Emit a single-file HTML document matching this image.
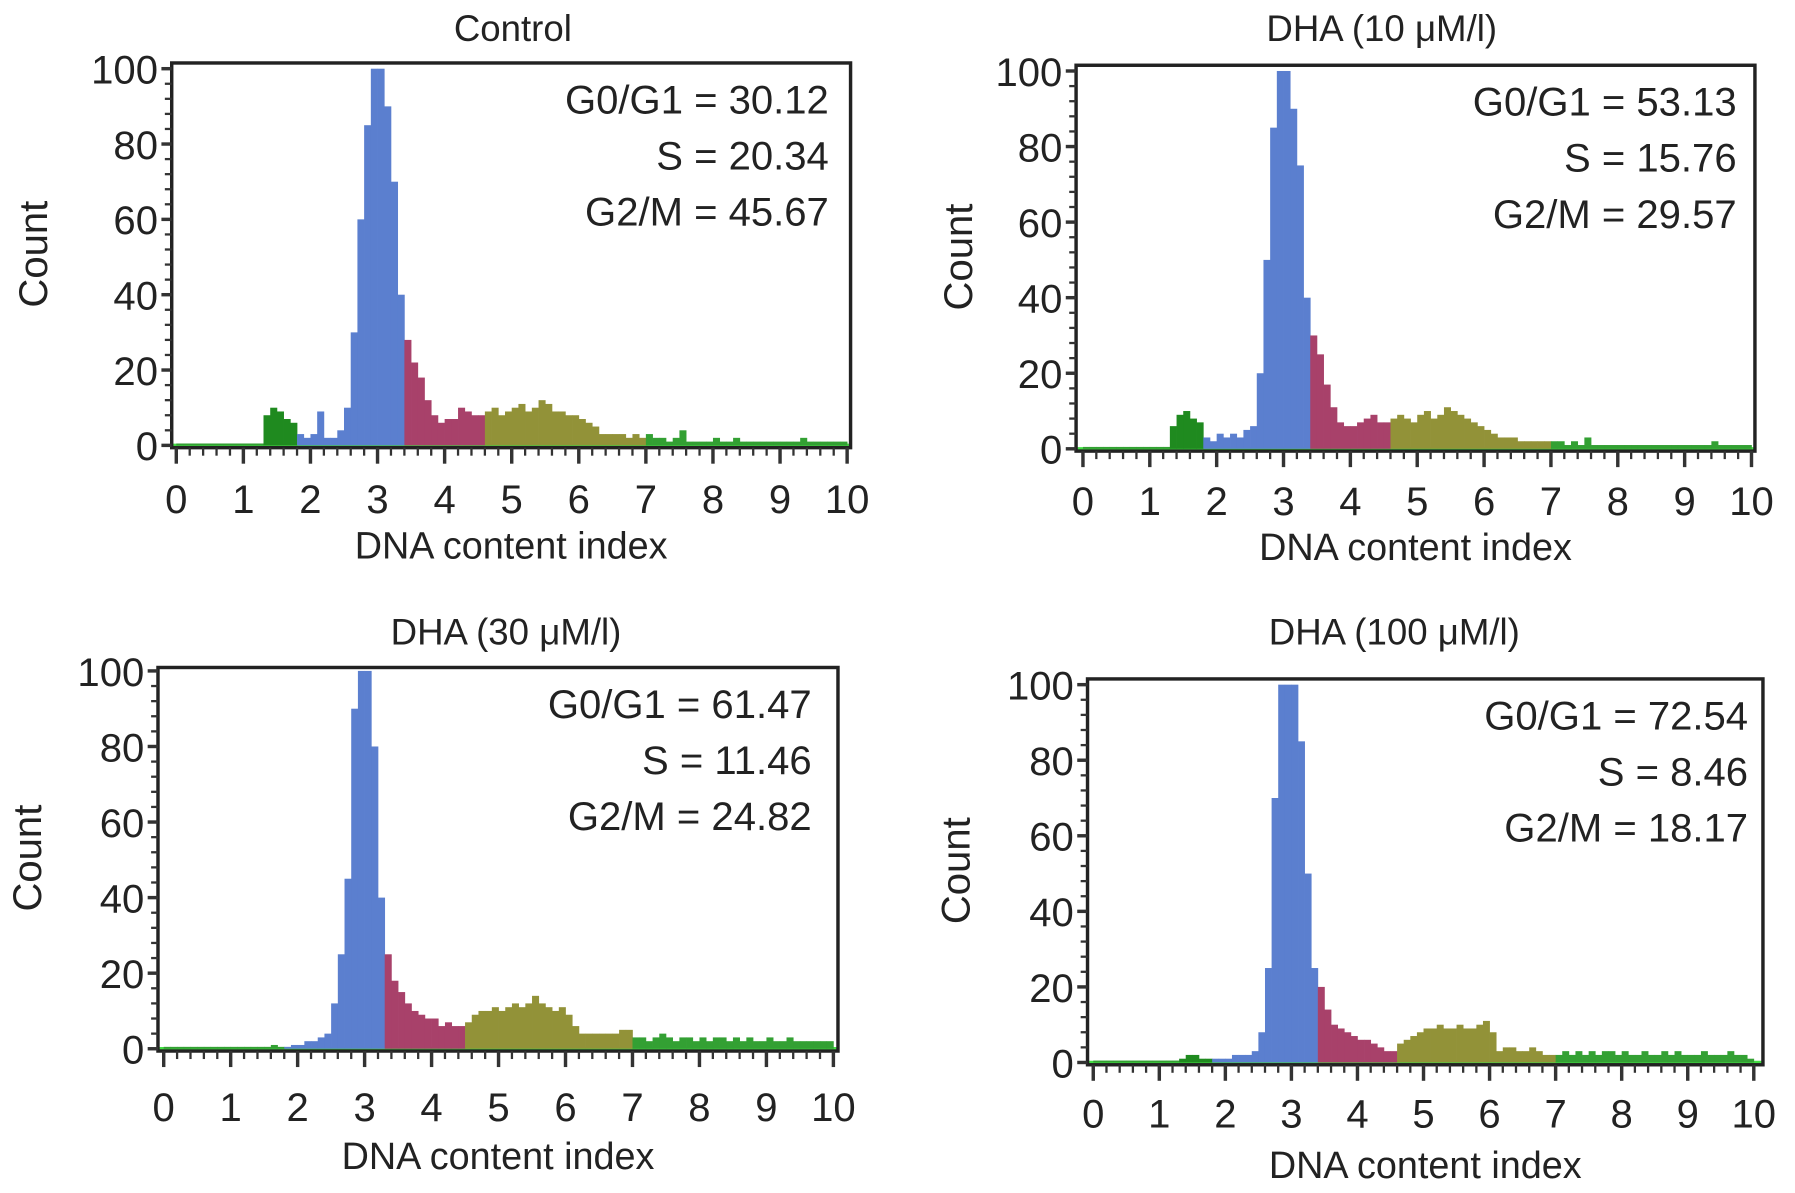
<!DOCTYPE html>
<html><head><meta charset="utf-8"><style>
html,body{margin:0;padding:0;background:#fff;}
svg{display:block;font-family:"Liberation Sans",Arial,sans-serif;}
</style></head><body>
<svg id="fig" width="1795" height="1193" viewBox="0 0 1568 1042" preserveAspectRatio="none" xmlns="http://www.w3.org/2000/svg"></svg>
<script>
const xTickLabels = ["0","1","2","3","4","5","6","7","8","9","10"];
const yTickLabels = ["0","20","40","60","80","100"];
const panelTitles = ["Control","DHA  (10 \u03bcM/l)","DHA (30 \u03bcM/l)","DHA (100 \u03bcM/l)"];
const statsControl = ["G0/G1 = 30.12","S = 20.34","G2/M = 45.67"];
const stats10 = ["G0/G1 = 53.13","S = 15.76","G2/M = 29.57"];
const stats30 = ["G0/G1 = 61.47","S = 11.46","G2/M = 24.82"];
const stats100 = ["G0/G1 = 72.54","S = 8.46","G2/M = 18.17"];
const countsControl = [.5,.5,.5,.5,.5,.5,.5,.5,.5,.5, .5,.5,.5,8,10,9,7,6,3,2, 3,9,2,2,4,10,30,60,85,100, 100,90,70,40,28,22,18,12,8,6, 7,7,10,9,8,8,9,10,8,9, 10,11,9,10,12,11,9,9,8,8, 7,6,5,3,3,3,3,2,3,2, 3,2,2,1,2,4,1,1,1,1, 2,1,1,2,1,1,1,1,1,1, 1,1,1,2,1,1,1,1,1,1];
const counts10 = [.5,.5,.5,.5,.5,.5,.5,.5,.5,.5, .5,.5,.5,6,9,10,8,7,3,2, 4,3,4,3,5,6,20,50,85,100, 100,90,75,40,30,25,17,11,7,6, 6,7,8,9,7,7,8,9,8,7, 9,10,8,9,11,10,9,8,7,6, 5,4,3,3,3,2,2,2,2,2, 2,2,1,2,1,3,1,1,1,1, 1,1,1,1,1,1,1,1,1,1, 1,1,1,1,2,1,1,1,1,1];
const counts30 = [.5,.5,.5,.5,.5,.5,.5,.5,.5,.5, .5,.5,.5,.5,.5,.5,1,.5,.5,1, 1,2,2,3,4,12,25,45,90,100, 100,80,40,25,18,15,12,10,9,8, 8,6,7,6,6,7,9,10,10,11, 10,11,12,11,12,14,12,11,10,11, 9,6,4,4,4,4,4,4,5,5, 3,3,2,3,4,3,2,3,3,2, 3,2,3,3,2,3,2,3,2,2, 3,2,2,3,2,2,2,2,2,2];
const counts100 = [.5,.5,.5,.5,.5,.5,.5,.5,.5,.5, .5,.5,.5,1,2,2,1,1,1,1, 1,2,2,2,3,8,25,70,100,100, 100,85,50,25,20,14,10,9,8,7, 6,6,5,4,3,3,5,6,7,8, 9,9,10,9,9,10,9,9,10,11, 8,3,4,4,3,3,4,3,2,2, 2,3,2,3,2,3,2,3,3,2, 3,2,2,3,2,2,3,2,3,2, 2,2,3,2,2,2,3,2,2,1];
const phaseBounds = [[1.3,1.8,3.4,4.6,7.0],[1.3,1.8,3.4,4.6,7.0],[1.8,1.8,3.3,4.5,7.0],[1.3,1.8,3.4,4.6,7.0]];
const allCounts=[countsControl,counts10,counts30,counts100];
const allStats=[statsControl,stats10,stats30,stats100];
const layout=[
 {bl:150,br:743,bt:55,y0:389,y100:60,x0:154,x10:740,tx:448,ty:25,tly:435,xly:477,cx:30,sx:724},
 {bl:940,br:1533,bt:57,y0:392,y100:62,x0:946,x10:1530,tx:1207,ty:25,tly:437,xly:478,cx:838,sx:1517},
 {bl:138,br:732,bt:583,y0:916,y100:586,x0:143,x10:728,tx:442,ty:552,tly:966,xly:1010,cx:25,sx:709},
 {bl:950,br:1540,bt:593,y0:928,y100:598,x0:955,x10:1532,tx:1218,ty:552,tly:972,xly:1018,cx:836,sx:1527}];
const colors=["#1f8a1f","#5b7fcf","#a8416a","#929238","#33a033"];
const NS="http://www.w3.org/2000/svg";
const svg=document.getElementById('fig');
function mk(t,a,p){const e=document.createElementNS(NS,t);for(const k in a)e.setAttribute(k,a[k]);(p||svg).appendChild(e);return e;}
layout.forEach((L,pi)=>{
 const g=mk('g',{});
 
 
 const X=v=>L.x0+(L.x10-L.x0)*v/10;
 const Y=v=>L.y0-(L.y0-L.y100)*v/100;
 const b=phaseBounds[pi];
 mk('line',{x1:L.bl,x2:L.br,y1:L.y0,y2:L.y0,stroke:'#44dd44','stroke-width':3},g);
 allCounts[pi].forEach((c,i)=>{
  const x=i*0.1;let col;
  if(x<b[0]-1e-6) col=colors[4]; else if(x<b[1]-1e-6) col=colors[0]; else if(x<b[2]-1e-6) col=colors[1]; else if(x<b[3]-1e-6) col=colors[2]; else if(x<b[4]-1e-6) col=colors[3]; else col=colors[4];
  const r=mk('rect',{x:X(x),y:Y(Math.min(c,100)),width:X(x+0.1)-X(x)+0.3,height:Y(0)-Y(Math.min(c,100)),fill:col},g);
  
  
 });
 const box=mk('rect',{x:L.bl,y:L.bt,width:L.br-L.bl,height:L.y0-L.bt+2,fill:'none',stroke:'#222','stroke-width':3},g);
 
 
 for(let k=0;k<=50;k++){const v=k*0.2;const maj=k%5==0;mk('line',{x1:X(v),x2:X(v),y1:L.y0+2,y2:L.y0+(maj?16:9),stroke:'#333','stroke-width':maj?3:2},g);}
 for(let k=0;k<=25;k++){const v=k*4;const maj=k%5==0;mk('line',{x1:L.bl-(maj?9:6),x2:L.bl,y1:Y(v),y2:Y(v),stroke:'#333','stroke-width':maj?3:2},g);}
 xTickLabels.forEach((t,i)=>{const e=mk('text',{x:X(i),y:L.tly+13,'font-size':35,'text-anchor':'middle',fill:'#222'},g);e.textContent=t;
  
  });
 yTickLabels.forEach((t,i)=>{const e=mk('text',{x:L.bl-12,y:Y(i*20)+13,'font-size':35,'text-anchor':'end',fill:'#222'},g);e.textContent=t;
  
  });
 const tt=mk('text',{x:L.tx,y:L.ty+11,'font-size':32,'text-anchor':'middle',fill:'#222'},g);tt.textContent=panelTitles[pi];
 
 
 const xl=mk('text',{x:(L.bl+L.br)/2,y:L.xly+11,'font-size':33,'text-anchor':'middle',fill:'#222'},g);xl.textContent='DNA content index';
 
 
 const cy=(L.bt+L.y0)/2;
 const yl=mk('text',{x:L.cx+11,y:cy,'font-size':35,'text-anchor':'middle',fill:'#222',transform:`rotate(-90 ${L.cx+11} ${cy})`},g);yl.textContent='Count';
 
 
 allStats[pi].forEach((s,i)=>{const e=mk('text',{x:L.sx,y:L.bt+32+12+i*49,'font-size':35,'text-anchor':'end',fill:'#222'},g);e.textContent=s;
  
  });
});
</script>
</body></html>
